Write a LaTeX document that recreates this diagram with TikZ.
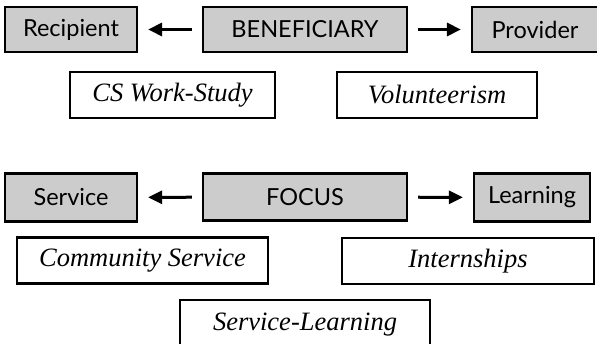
\documentclass[tikz,border=0pt]{standalone}
\usepackage{fontspec}
\setmainfont{Liberation Serif}
\newfontfamily\handfont{Lato}
\usetikzlibrary{arrows.meta}
\begin{document}
\begin{tikzpicture}[x=1pt,y=-1pt,
		catbox/.style={draw, line width=2.2pt, fill=gray!40, minimum height=45pt, inner sep=0pt, font=\handfont\fontsize{23.5}{28}\selectfont},
		kindbox/.style={draw, line width=2.2pt, fill=white, minimum height=46pt, inner sep=0pt, font=\itshape\fontsize{26.5}{31}\selectfont},
		arr/.style={line width=3pt, -{Triangle[length=14pt,width=13pt]}, shorten <=10pt, shorten >=10pt}]
	\useasboundingbox (0,0) rectangle (597,344);
	\clip (0,0) rectangle (597,344);

	% Beneficiary row
	\node[catbox, minimum width=204pt] (bene) at (305,29.5) {BENEFICIARY};
	\node[catbox, minimum width=132pt] (recip) at (71,29.5) {Recipient};
	\node[catbox, minimum width=126pt] (prov) at (535,29.5) {Provider};
	\draw[arr] (bene) -- (recip);
	\draw[arr] (bene) -- (prov);

	\node[kindbox, minimum width=205pt] (csws) at (172.5,95) {CS Work-Study};
	\node[kindbox, minimum width=200pt] (volun) at (437,95) {Volunteerism};

	% Focus row
	\node[catbox, minimum width=204pt, minimum height=47pt] (focus) at (305,197) {FOCUS};
	\node[catbox, minimum width=132pt, minimum height=48pt] (serv) at (71,197.5) {Service};
	\node[catbox, minimum width=116pt, minimum height=48pt] (learn) at (532,197.5) {Learning};
	\draw[arr] (focus) -- (serv);
	\draw[arr] (focus) -- (learn);

	\node[kindbox, minimum width=251pt] (comm) at (142.5,260.5) {Community Service};
	\node[kindbox, minimum width=252pt] (intern) at (468,261) {Internships};
	\node[kindbox, minimum width=250pt, minimum height=50pt] (servlearn) at (305,325) {Service-Learning};
\end{tikzpicture}
\end{document}
